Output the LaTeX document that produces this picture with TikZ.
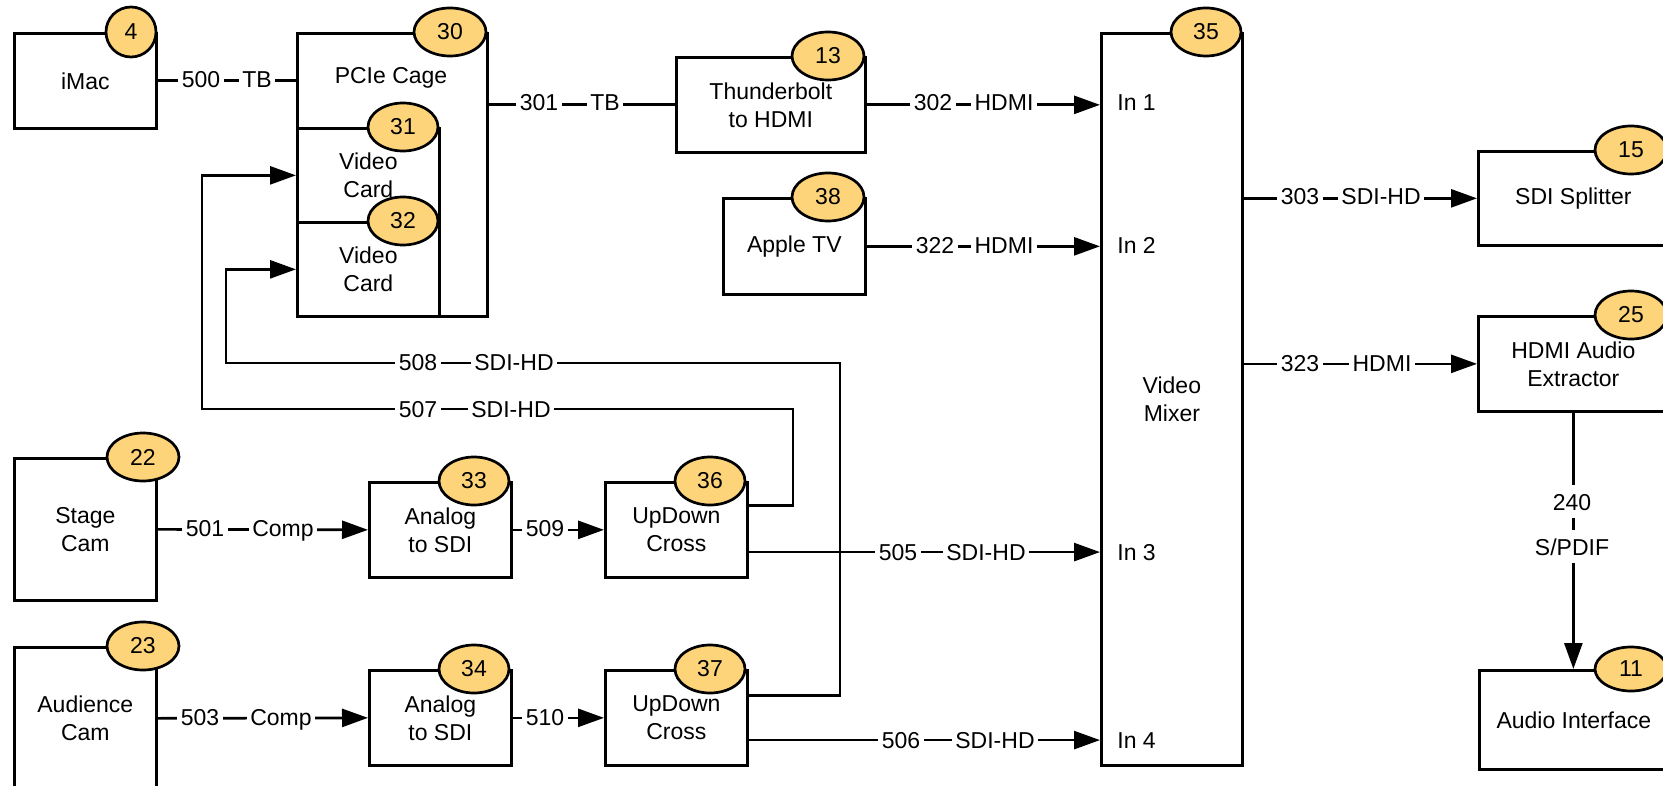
\documentclass[tikz,border=0pt]{standalone}
\usepackage{fontspec}
\setmainfont{Liberation Sans}
\usetikzlibrary{arrows.meta,shapes.geometric}
\definecolor{badgefill}{RGB}{253,212,122}
\begin{document}
\begin{tikzpicture}[x=0.5pt,y=-0.5pt,
  font=\fontsize{11.5pt}{14pt}\selectfont,
  line width=1.35pt,
  box/.style={draw, line width=1.35pt, inner sep=0pt, align=center, anchor=north west},
  badge/.style={ellipse, draw, line width=1.35pt, fill=badgefill, inner sep=0pt, minimum width=36pt, minimum height=24pt},
  lbl/.style={fill=white, inner xsep=1.8pt, inner ysep=1.5pt, text height=11pt, text depth=2.5pt, anchor=base},
  inlbl/.style={anchor=base west, inner sep=0pt},
  arr/.style={-{Triangle[length=13pt,width=9pt]}}]
\useasboundingbox (0,0) rectangle (1663,786);
\fill[white] (0,0) rectangle (1663,786);
\clip (0,0) rectangle (1663,786);

% boxes
\node[box, minimum width=71pt, minimum height=47.5pt] (imac) at (13,32) {iMac};
\node[box, minimum width=95pt, minimum height=141.5pt] (pcie) at (296,32) {};
\node[anchor=base, inner sep=0pt] (pcielbl) at (391,84) {PCIe Cage};
\node[box, minimum width=71pt, minimum height=47pt] (card31) at (296,127) {Video\\Card};
\node[box, minimum width=71pt, minimum height=47pt] (card32) at (296,221) {Video\\Card};
\node[box, minimum width=94.5pt, minimum height=47.5pt] (tb) at (675,56) {Thunderbolt\\to HDMI};
\node[box, minimum width=71pt, minimum height=48pt] (atv) at (722,197) {Apple TV};
\node[box, minimum width=70.5pt, minimum height=366pt] (mixer) at (1100,32) {Video\\Mixer};
\node[box, minimum width=95pt, minimum height=47pt] (split) at (1477,150) {SDI Splitter};
\node[box, minimum width=95pt, minimum height=47.5pt] (hdmi) at (1477,315) {HDMI Audio\\Extractor};
\node[box, minimum width=94.5pt, minimum height=49.5pt] (aif) at (1478,669) {Audio Interface};
\node[box, minimum width=71pt, minimum height=71pt] (stage) at (13,457) {Stage\\Cam};
\node[box, minimum width=71pt, minimum height=47.5pt] (an33) at (368,481) {Analog\\to SDI};
\node[box, minimum width=71pt, minimum height=47.5pt] (ud36) at (604,481) {UpDown\\Cross};
\node[box, minimum width=71pt, minimum height=71pt] (aud) at (13,646) {Audience\\Cam};
\node[box, minimum width=71pt, minimum height=47.5pt] (an34) at (368,669) {Analog\\to SDI};
\node[box, minimum width=71pt, minimum height=47.5pt] (ud37) at (604,669) {UpDown\\Cross};

% mixer inputs
\node[inlbl] (in1) at (1116,111) {In 1};
\node[inlbl] (in2) at (1116,253) {In 2};
\node[inlbl] (in3) at (1116,560) {In 3};
\node[inlbl] (in4) at (1116,748) {In 4};

% connectors
\draw (imac.east) -- (imac.east -| pcie.west);
\draw (pcie.east |- tb.west) -- (tb.west);
\draw[arr] (tb.east) -- (tb.east -| mixer.west);
\draw[arr] (atv.east) -- (atv.east -| mixer.west);
\draw[arr] (split.west -| mixer.east) -- (split.west);
\draw[arr] (hdmi.west -| mixer.east) -- (hdmi.west);
\draw[arr] (hdmi.south) -- (hdmi.south |- aif.north);
\draw[arr] (stage.east) -- (an33.west);
\draw[arr] (an33.east) -- (ud36.west);
\draw[arr] (aud.east) -- (an34.west);
\draw[arr] (an34.east) -- (ud37.west);
\draw[arr] (ud36.east |- in3) -- (mixer.west |- in3);
\draw[arr] (ud37.east |- in4) -- (mixer.west |- in4);
\draw[arr] ([yshift=12.25pt]ud36.east) -| (793,409) -- (202,409) |- (card31.west);
\draw[arr] ([yshift=11.25pt]ud37.east) -| (840,363) -- (226,363) |- (card32.west);

% connector labels
\node[lbl] (l500) at (201,88) {500};
\node[lbl] (l500b) at (257,88) {TB};
\node[lbl] (l301) at (539,111) {301};
\node[lbl] (l301b) at (605,111) {TB};
\node[lbl] (l302) at (933,111) {302};
\node[lbl] (l302b) at (1004,111) {HDMI};
\node[lbl] (l322) at (935,253) {322};
\node[lbl] (l322b) at (1004,253) {HDMI};
\node[lbl] (l303) at (1300,205) {303};
\node[lbl] (l303b) at (1381,205) {SDI-HD};
\node[lbl] (l323) at (1300,371) {323};
\node[lbl] (l323b) at (1382,371) {HDMI};
\node[lbl] (l508) at (418,370) {508};
\node[lbl] (l508b) at (514,370) {SDI-HD};
\node[lbl] (l507) at (418,417) {507};
\node[lbl] (l507b) at (511,417) {SDI-HD};
\node[lbl] (l501) at (205,536) {501};
\node[lbl] (l501b) at (283,536) {Comp};
\node[lbl] (l509) at (545,536) {509};
\node[lbl] (l505) at (898,560) {505};
\node[lbl] (l505b) at (986,560) {SDI-HD};
\node[lbl] (l503) at (200,725) {503};
\node[lbl] (l503b) at (281,725) {Comp};
\node[lbl] (l510) at (545,725) {510};
\node[lbl] (l506) at (901,748) {506};
\node[lbl] (l506b) at (995,748) {SDI-HD};
\node[lbl] (l240) at (1572,510) {240};
\node[lbl] (l240b) at (1572,555) {S/PDIF};

% badges
\node[badge, minimum width=25pt, minimum height=25pt] (b4) at (131,32) {4};
\node[badge] (b30) at (450,32) {30};
\node[badge, minimum width=35pt] (b31) at (403,127) {31};
\node[badge, minimum width=35pt] (b32) at (403,221) {32};
\node[badge] (b13) at (828,56) {13};
\node[badge] (b38) at (828,197) {38};
\node[badge, minimum width=35pt] (b35) at (1206,32) {35};
\node[badge] (b15) at (1631,150) {15};
\node[badge] (b25) at (1631,315) {25};
\node[badge, minimum height=22pt] (b11) at (1631,669) {11};
\node[badge] (b22) at (143,457) {22};
\node[badge] (b23) at (143,646) {23};
\node[badge, minimum width=35pt] (b33) at (474,481) {33};
\node[badge, minimum width=35pt] (b36) at (710,481) {36};
\node[badge, minimum width=35pt] (b34) at (474,669) {34};
\node[badge, minimum width=35pt] (b37) at (710,669) {37};
\end{tikzpicture}
\end{document}
